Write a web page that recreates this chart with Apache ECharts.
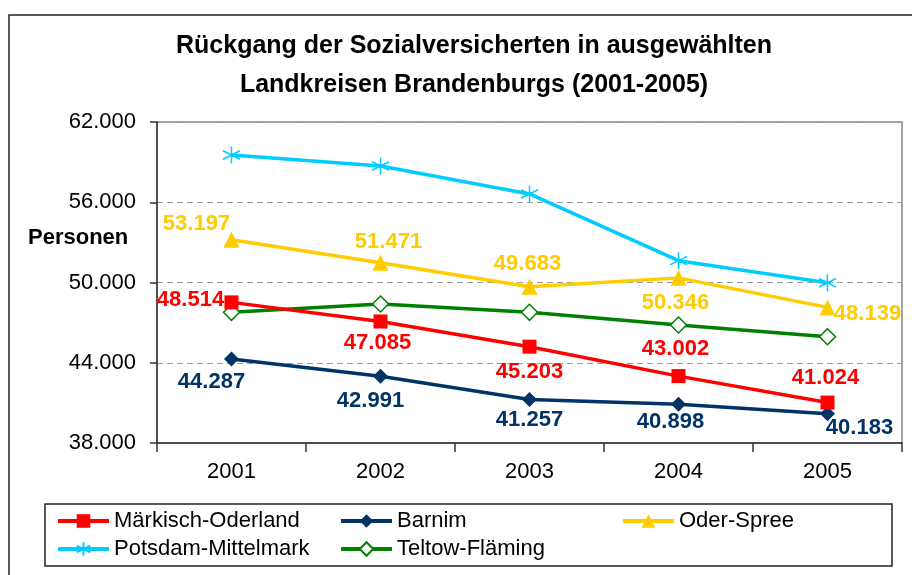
<!DOCTYPE html>
<html>
<head>
<meta charset="utf-8">
<script src="https://cdn.jsdelivr.net/npm/echarts@6/dist/echarts.min.js"></script>
<style>
  html, body { margin: 0; padding: 0; background: #fff; }
  #main { width: 912px; height: 575px; }
</style>
</head>
<body>
<div id="main"></div>
<script>
var YEARS = ["2001", "2002", "2003", "2004", "2005"];

var MO = [48514, 47085, 45203, 43002, 41024];      // Märkisch-Oderland
var BARNIM = [44287, 42991, 41257, 40898, 40183];
var ODS = [53197, 51471, 49683, 50346, 48139];     // Oder-Spree
var PM = [59530, 58710, 56620, 51630, 49980];      // Potsdam-Mittelmark
var TF = [47770, 48390, 47770, 46820, 45950];      // Teltow-Fläming

// Verschiebung der Beschriftungen relativ zum Punkt
var MO_LBL = [[-41, -2], [-3, 21], [0, 25], [-3, -27], [-2, -25]];
var BARNIM_LBL = [[-20, 23], [-10, 25], [0, 20], [-8, 18], [32, 14]];
var ODS_LBL = [[-35, -16], [8, -21], [-2, -23], [-3, 25], [40, 7]];

var FONT = "Liberation Sans";
var STAR = "path://M5,0L5,10M0.7,2.5L9.3,7.5M0.7,7.5L9.3,2.5";

var myChart = echarts.init(document.getElementById('main'));

function fmt(v) {
  var s = String(Math.round(v));
  return s.replace(/\B(?=(\d{3})+(?!\d))/g, ".");
}

// Datenpunkte mit Beschriftung bauen
function withLabels(values, offsets, color) {
  return values.map(function(v, i) {
    return {
      value: v,
      label: {
        show: true,
        position: "inside",
        offset: offsets[i],
        formatter: function(p) { return fmt(p.value); },
        color: color,
        fontFamily: FONT,
        fontWeight: "bold",
        fontSize: 22
      }
    };
  });
}

function lineSeries(name, data, color, symbol, size, extra) {
  var s = {
    name: name,
    type: "line",
    data: data,
    symbol: symbol,
    symbolSize: size,
    showAllSymbol: true,
    lineStyle: { color: color, width: 3.5 },
    itemStyle: { color: color },
    emphasis: { disabled: true }
  };
  return Object.assign(s, extra || {});
}

var legendText = { fontFamily: FONT, fontSize: 22, color: "#000" };

function legendCol(left, names) {
  return {
    left: left, top: 510, orient: "vertical", itemGap: 6, padding: 0,
    itemWidth: 51, itemHeight: 17, textStyle: legendText,
    lineStyle: { width: 4 },
    data: names
  };
}

myChart.setOption({
  animation: false,
  backgroundColor: "#fff",
  grid: {
    left: 157, top: 122, right: 10, bottom: 132,
    show: true, borderColor: "#888", borderWidth: 1.5, backgroundColor: "transparent"
  },
  graphic: [
    {
      type: "rect", silent: true, z: -1,
      shape: { x: 9, y: 15, width: 920, height: 580 },
      style: { fill: "#fff", stroke: "#222", lineWidth: 1.5 }
    },
    {
      type: "text", silent: true,
      style: {
        text: "Rückgang der Sozialversicherten in ausgewählten\nLandkreisen Brandenburgs (2001-2005)",
        x: 474, y: 27, textAlign: "center", textVerticalAlign: "top",
        font: "bold 25px " + FONT, lineHeight: 39, fill: "#000"
      }
    },
    {
      type: "text", silent: true,
      style: {
        text: "Personen", x: 28, y: 238, textVerticalAlign: "middle",
        font: "bold 22px " + FONT, fill: "#000"
      }
    },
    {
      type: "rect", silent: true,
      shape: { x: 45, y: 504, width: 847, height: 62 },
      style: { fill: "none", stroke: "#222", lineWidth: 1.5 }
    }
  ],
  legend: [
    legendCol(56, ["Märkisch-Oderland", "Potsdam-Mittelmark"]),
    legendCol(339, ["Barnim", "Teltow-Fläming"]),
    legendCol(621, ["Oder-Spree"])
  ],
  xAxis: {
    type: "category",
    data: YEARS,
    boundaryGap: true,
    axisLine: { lineStyle: { color: "#333", width: 1.5 } },
    axisTick: { show: true, length: 9, lineStyle: { color: "#333", width: 1.5 } },
    axisLabel: { color: "#000", fontFamily: FONT, fontSize: 22, margin: 18 }
  },
  yAxis: {
    type: "value",
    min: 38000, max: 62000, interval: 6000,
    axisLine: { show: true, lineStyle: { color: "#333", width: 1.5 } },
    axisTick: { show: true, length: 7, lineStyle: { color: "#333", width: 1.5 } },
    axisLabel: {
      color: "#000", fontFamily: FONT, fontSize: 22, margin: 21,
      formatter: function(v) { return fmt(v); }
    },
    splitLine: { lineStyle: { color: "#999", type: [6, 4], width: 1 } }
  },
  series: [
    lineSeries("Teltow-Fläming", TF, "#008000", "diamond", 16,
      { itemStyle: { color: "#fff", borderColor: "#008000", borderWidth: 1.5 } }),
    lineSeries("Potsdam-Mittelmark", PM, "#00ccff", STAR, 17,
      { itemStyle: { color: "#00ccff", borderColor: "#00ccff", borderWidth: 1.5 } }),
    lineSeries("Barnim", withLabels(BARNIM, BARNIM_LBL, "#003366"), "#003366", "diamond", 15),
    lineSeries("Oder-Spree", withLabels(ODS, ODS_LBL, "#ffcc00"), "#ffcc00", "triangle", 16),
    lineSeries("Märkisch-Oderland", withLabels(MO, MO_LBL, "#ff0000"), "#ff0000", "rect", 14)
  ]
});
</script>
</body>
</html>
